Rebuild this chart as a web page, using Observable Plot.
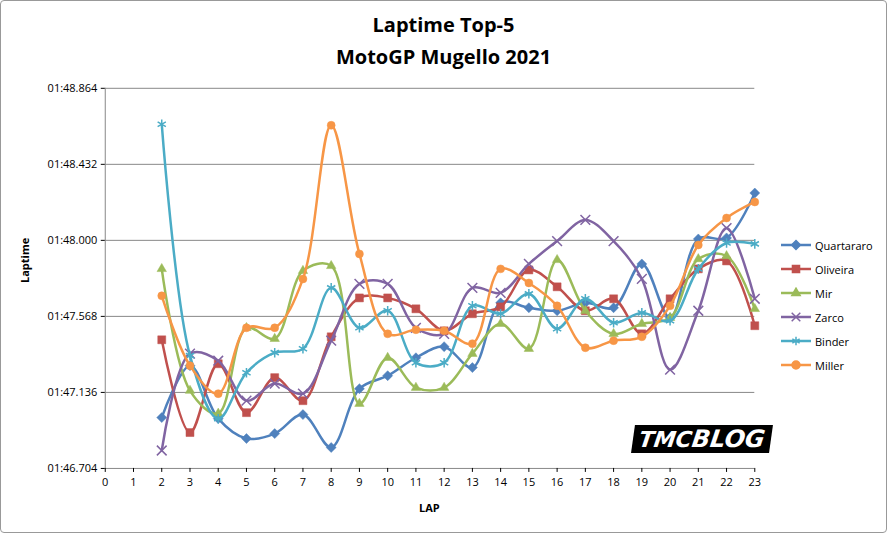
<!DOCTYPE html>
<html><head><meta charset="utf-8">
<script src="https://cdn.jsdelivr.net/npm/d3@7"></script>
<script src="https://cdn.jsdelivr.net/npm/@observablehq/plot@0.6"></script>
<style>
body{margin:0;background:#fff;font-family:"Open Sans",sans-serif;}
#wrap{position:relative;width:885px;height:531px;border:1px solid #999;border-radius:4px;}
#wrap svg.plot{position:absolute;left:0;top:0;}
.t{position:absolute;left:0;width:885px;text-align:center;font-weight:bold;font-size:20px;color:#000;}
#leg{position:absolute;left:780px;top:232px;font-size:11px;}
#leg div{height:24px;display:flex;align-items:center;}
#leg svg{margin-right:4px}
</style></head><body>
<div id="wrap">
<div class="t" style="top:10px">Laptime Top-5</div>
<div class="t" style="top:42px">MotoGP Mugello 2021</div>
<div id="chart"></div>
<div id="leg"></div>
<div style="position:absolute;left:16px;top:282px;transform:rotate(-90deg);transform-origin:left top;font-size:11px;font-weight:bold">Laptime</div>
<div style="position:absolute;left:418px;top:499px;font-size:11px;font-weight:bold">LAP</div>
<div style="position:absolute;left:632px;top:424px;background:#000;color:#fff;font:italic bold 22px 'DejaVu Sans';padding:0 6px;transform:skewX(-8deg)">TMC<span style="color:#fff;font-size:24px">BLOG</span></div>
</div>
<script>
const laps = d3.range(2, 24);
const riders = ["Quartararo","Oliveira","Mir","Zarco","Binder","Miller"];
const colors = ["#4F81BD","#C0504D","#9BBB59","#8064A2","#4BACC6","#F79646"];
const symbols = ["diamond2","square","triangle2","times","asterisk","circle"];
const quartararo = [106.993,107.288,106.987,106.874,106.902,107.010,106.823,107.157,107.231,107.333,107.396,107.277,107.645,107.617,107.600,107.645,107.617,107.866,107.560,108.008,108.014,108.269];
const oliveira = [107.435,106.908,107.299,107.021,107.220,107.089,107.452,107.673,107.673,107.611,107.486,107.583,107.622,107.832,107.736,107.600,107.668,107.469,107.668,107.838,107.883,107.515];
const mir = [107.838,107.146,107.016,107.503,107.441,107.827,107.855,107.072,107.333,107.163,107.163,107.356,107.526,107.384,107.889,107.600,107.469,107.526,107.560,107.894,107.911,107.611];
const zarco = [106.806,107.356,107.316,107.089,107.186,107.129,107.430,107.753,107.753,107.503,107.469,107.730,107.702,107.866,107.996,108.116,107.996,107.781,107.265,107.600,108.070,107.668];
const binder = [108.660,107.345,106.987,107.248,107.362,107.384,107.730,107.503,107.600,107.305,107.305,107.628,107.583,107.696,107.498,107.668,107.532,107.588,107.543,107.838,107.985,107.980];
const miller = [107.685,107.288,107.129,107.503,107.503,107.781,108.654,107.923,107.469,107.492,107.486,107.413,107.838,107.758,107.628,107.390,107.430,107.452,107.628,107.974,108.127,108.218];
const series = [quartararo,oliveira,mir,zarco,binder,miller];
const yTicks = [106.704,107.136,107.568,108.000,108.432,108.864];
const xTicks = d3.range(0, 24);
const data = series.flatMap((s,i)=>s.map((v,j)=>({lap:laps[j],t:v,rider:riders[i]})));
const fmt = v => "01:" + (v-60).toFixed(3);
const marks = [
  Plot.ruleY(yTicks.slice(1), {stroke:"#888", strokeWidth:1}),
  Plot.ruleY([106.704], {stroke:"#888"}),
  Plot.ruleX([0], {stroke:"#888"}),
  Plot.axisY({ticks:yTicks, tickFormat:fmt, tickSize:4, fontSize:11, label:null, tickPadding:4}),
  Plot.axisX({ticks:xTicks, tickFormat:d=>d, tickSize:4, fontSize:11, label:null, tickPadding:6})
];
riders.forEach((r,i)=>{
  const d = data.filter(e=>e.rider===r);
  marks.push(Plot.line(d,{x:"lap",y:"t",stroke:colors[i],strokeWidth:2.5,curve:"catmull-rom"}));
  const filled = !["times","asterisk"].includes(symbols[i]);
  marks.push(Plot.dot(d,{x:"lap",y:"t",symbol:()=>symbols[i],r:symbols[i]==="circle"?4:4.5,
    fill:filled?colors[i]:"none",stroke:colors[i],strokeWidth:filled?0.5:1.5}));
});
const chart = Plot.plot({
  width:887,height:533,marginLeft:104,marginRight:132,marginTop:87,marginBottom:65,
  x:{domain:[0,23]}, y:{domain:[106.704,108.864]},
  symbol:{type:"identity"},
  style:{fontFamily:"Open Sans, sans-serif",fontSize:"11px",color:"#000",background:"transparent"},
  marks
});
chart.classList.add("plot");
document.getElementById("chart").appendChild(chart);
const leg = document.getElementById("leg");
riders.forEach((r,i)=>{
  const sym = d3.symbol(Plot.scale({symbol:{type:"identity"}})?d3.symbolCircle:d3.symbolCircle);
  const map={diamond2:d3.symbolDiamond2,square:d3.symbolSquare,triangle2:d3.symbolTriangle2,times:d3.symbolTimes,asterisk:d3.symbolAsterisk,circle:d3.symbolCircle};
  const filled = !["times","asterisk"].includes(symbols[i]);
  const p = d3.symbol(map[symbols[i]], 50)();
  leg.insertAdjacentHTML("beforeend",`<div><svg width="30" height="12"><line x1="0" x2="30" y1="6" y2="6" stroke="${colors[i]}" stroke-width="2.5"/><path transform="translate(15,6)" d="${p}" fill="${filled?colors[i]:"none"}" stroke="${colors[i]}" stroke-width="1.5"/></svg>${r}</div>`);
});
</script>
</body></html>
